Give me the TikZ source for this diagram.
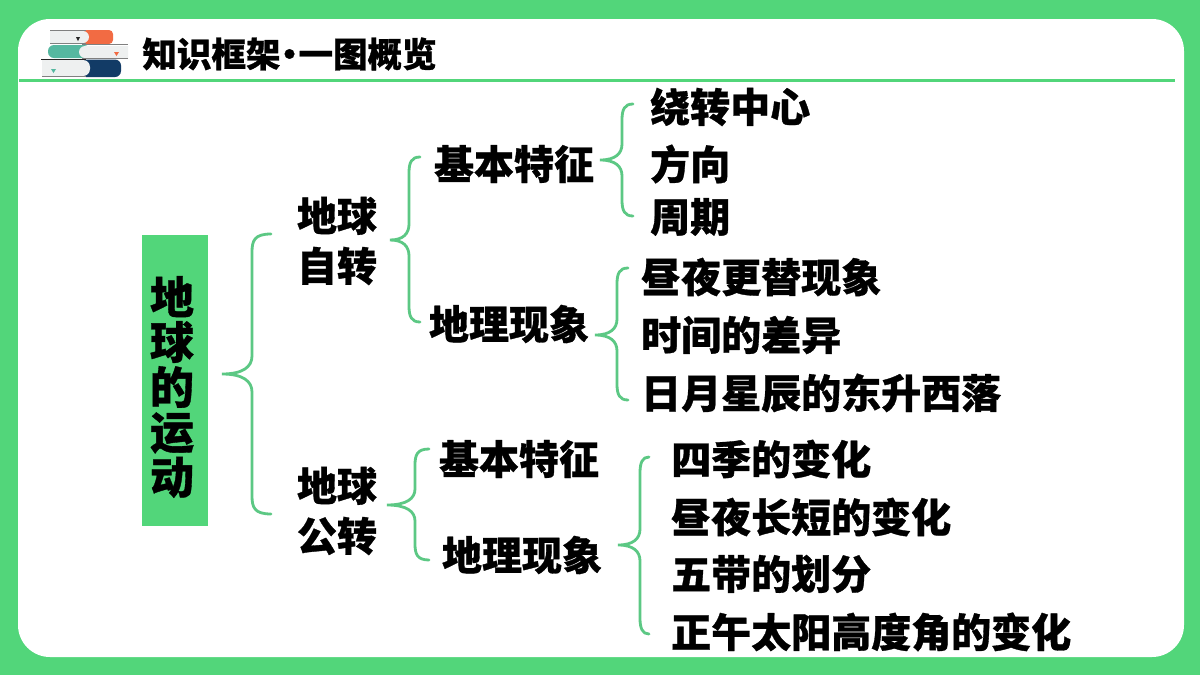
\documentclass[tikz,border=0pt]{standalone}
\usetikzlibrary{calc}
\usepackage{fontspec}
\setmainfont{Noto Sans CJK SC Black}[FakeBold=0.8]
\definecolor{gr}{HTML}{52D67A}
\definecolor{brk}{HTML}{5CC884}
\definecolor{oran}{HTML}{F26B43}
\definecolor{teal1}{HTML}{55B8A0}
\definecolor{navy}{HTML}{123B66}
\definecolor{pg}{HTML}{EEF0F0}
\tikzset{
 lab/.style={font=\fontsize{40}{40}\selectfont,inner sep=0pt,text=black},
 stack/.style={font=\fontsize{40}{50}\selectfont,inner sep=0pt,align=center,text=black},
 brk/.style={draw=brk,line width=2.8pt,line cap=round}
}
% \brc{tip}{top end}{bottom end}{spine offset from tip}{curve radius}
\newcommand{\brc}[5]{%
 \draw[brk] let \p1=(#1),\p2=(#2),\p3=(#3),\n1={\x1+#4pt} in
 (\p2) .. controls (\n1+#5pt*0.3,\y2) and (\n1,\y2-#5pt*0.7) .. (\n1,\y2-#5pt-#5pt)
 -- (\n1,\y1+#5pt+#5pt) .. controls (\n1,\y1+#5pt*0.8) and (\x1+#4pt*0.7,\y1) .. (\p1)
 .. controls (\x1+#4pt*0.7,\y1) and (\n1,\y1-#5pt*0.8) .. (\n1,\y1-#5pt-#5pt)
 -- (\n1,\y3+#5pt+#5pt) .. controls (\n1,\y3+#5pt*0.7) and (\n1+#5pt*0.3,\y3) .. (\p3);}
\begin{document}
\begin{tikzpicture}[x=1pt,y=-1pt]
\useasboundingbox (0,0) rectangle (1200,675);
\fill[gr] (0,0) rectangle (1200,675);
\fill[white,rounded corners=32pt] (18,19) rectangle (1184,657);
\draw[gr,line width=3pt] (19,80) -- (1175,80);
% book icon
\fill[oran,rounded corners=4pt] (80,30) rectangle (113,44);
\fill[pg] (50,31) {[rounded corners=6pt] -- (89,31) -- (89,43)} -- (50,43) -- cycle;
\fill[teal1,rounded corners=6pt] (48,45) rectangle (90,58);
\fill[pg] (128,46) {[rounded corners=6pt] -- (79,46) -- (79,58)} -- (128,58) -- cycle;
\fill[navy,rounded corners=6pt] (80,59.5) rectangle (121,77);
\fill[pg] (42,60) {[rounded corners=7pt] -- (90,60) -- (90,76)} -- (42,76) -- cycle;
\draw[gray,line width=.8pt] (50,30) -- (86,30) (50,43.5) -- (86,43.5) (82,44.6) -- (128,44.6) (82,58.5) -- (128,58.5) (42,76.6) -- (86,76.6);
\draw[black!85,line width=.8pt] (41,59.5) -- (86,59.5);
\fill[black!85] (76,37) -- (80,37) -- (78,41) -- cycle;
\fill[oran] (114,52) -- (119,52) -- (116.5,56) -- cycle;
\fill[teal1] (51,69) -- (56,69) -- (53.5,73) -- cycle;
\node[inner sep=0pt,font=\fontsize{34.5}{34.5}\selectfont] (title) at (289.5,54) {知识框架\hspace{-8.2pt}•\hspace{-8.2pt}一图概览};
% root
\node[fill=gr,minimum width=66pt,minimum height=291pt,inner sep=0pt] (root) at (174.5,380) {};
\node[inner sep=0pt,align=center,font=\fontsize{44}{44}\selectfont] (roott) at (172,387) {地\\[1pt]球\\[1pt]的\\[1pt]运\\[1pt]动};
% level 2
\node[stack] (zz) at (337,241) {地球\\自转};
\node[stack] (gz) at (337,511) {地球\\公转};
% level 3
\node[lab] (a1) at (514,164) {基本特征};
\node[lab] (a2) at (509,324) {地理现象};
\node[lab] (a3) at (519,459) {基本特征};
\node[lab] (a4) at (522,555) {地理现象};
% level 4
\node[lab,anchor=west] (b1) at (650,107) {绕转中心};
\node[lab,anchor=west] (b2) at (650,164) {方向};
\node[lab,anchor=west] (b3) at (650,217) {周期};
\node[lab,anchor=west] (c1) at (641,277) {昼夜更替现象};
\node[lab,anchor=west] (c2) at (641,335) {时间的差异};
\node[lab,anchor=west] (c3) at (641,393) {日月星辰的东升西落};
\node[lab,anchor=west] (d1) at (671,459) {四季的变化};
\node[lab,anchor=west] (d2) at (671,517) {昼夜长短的变化};
\node[lab,anchor=west] (d3) at (671,574) {五带的划分};
\node[lab,anchor=west] (d4) at (671,632) {正午太阳高度角的变化};
% bracket ends
\coordinate (r0) at (222,374); \coordinate (r1) at (271,234); \coordinate (r2) at (271,514);
\coordinate (z0) at (390,240); \coordinate (z1) at (420,157); \coordinate (z2) at (420,322);
\coordinate (g0) at (387,505); \coordinate (g1) at (429,449); \coordinate (g2) at (429,560);
\coordinate (t0) at (600,160); \coordinate (t1) at (633,104); \coordinate (t2) at (633,216);
\coordinate (u0) at (595,335); \coordinate (u1) at (628,268); \coordinate (u2) at (628,400);
\coordinate (v0) at (618,545); \coordinate (v1) at (649,457); \coordinate (v2) at (649,634);
\brc{r0}{r1}{r2}{30}{9}
\brc{z0}{z1}{z2}{19}{8}
\brc{g0}{g1}{g2}{28}{8}
\brc{t0}{t1}{t2}{22}{8}
\brc{u0}{u1}{u2}{22}{8}
\brc{v0}{v1}{v2}{22}{8}
\end{tikzpicture}
\end{document}
